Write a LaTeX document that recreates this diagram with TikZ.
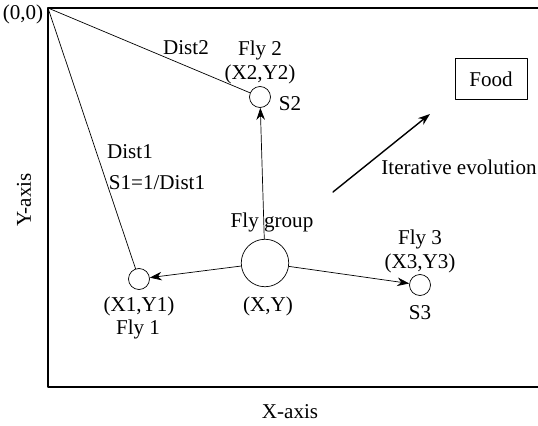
\documentclass[tikz,border=0pt]{standalone}
\usepackage{fontspec}
\setmainfont{Liberation Serif}
\newfontfamily\tnr{Liberation Serif}
\usetikzlibrary{calc,arrows.meta,positioning}

\tikzset{
  fly/.style={draw,circle,inner sep=0pt,minimum size=0.42cm},
  flygrp/.style={draw,circle,inner sep=0pt,minimum size=0.95cm},
  lbl/.style={inner sep=1pt,font=\tnr\fontsize{12}{14}\selectfont},
}

\begin{document}
\begin{tikzpicture}[x=0.02cm,y=-0.02cm,>={Stealth[length=2.4mm,width=1.7mm]},line join=round,line cap=round]
    \useasboundingbox (0,0) rectangle (538,426);
    % frame
    \draw[semithick] (538,8)--(48,8)--(48,387)--(538,387);
    \coordinate (o) at (48,8);
    \node[lbl] (zero) at (23,14){(0,0)};
    \node[lbl] (xax) at (290,412){X-axis};
    \node[lbl,rotate=90] (yax) at (24,200){Y-axis};
    % flies
    \node[flygrp] (grp) at (265,263){};
    \node[fly] (fly1) at (139,279){};
    \node[fly] (fly2) at (260,97){};
    \node[fly] (fly3) at (420,285){};
    \node[lbl] (grpname) at (272,222){Fly group};
    \node[lbl] (grpxy) at (268,306){(X,Y)};
    \node[lbl] (f1xy) at (139,306){(X1,Y1)};
    \node[lbl] (f1name) at (138,329){Fly 1};
    \node[lbl] (f2name) at (260,50){Fly 2};
    \node[lbl] (f2xy) at (260,74){(X2,Y2)};
    \node[lbl] (s2) at (290,104){S2};
    \node[lbl] (f3name) at (420,239){Fly 3};
    \node[lbl] (f3xy) at (420,263){(X3,Y3)};
    \node[lbl] (s3) at (420,313){S3};
    \node[lbl] (d2) at (186,48){Dist2};
    \node[lbl] (d1) at (130,152){Dist1};
    \node[lbl] (s1) at (157,183){S1=1/Dist1};
    % distances
    \draw (o)--(fly2);
    \draw (o)--(fly1);
    \draw[->] (grp)--(fly2);
    \draw[->] (grp)--(fly1);
    \draw[->] (grp)--(fly3);
    % food
    \node[draw,lbl,minimum width=1.44cm,minimum height=0.82cm] (food) at (491,79){Food};
    \coordinate (evs) at (333,192);
    \coordinate (eve) at (430,114);
    \draw[->,thick] (evs)--(eve);
    \node[lbl] (evo) at (459,167){Iterative evolution};
\end{tikzpicture}
\end{document}
